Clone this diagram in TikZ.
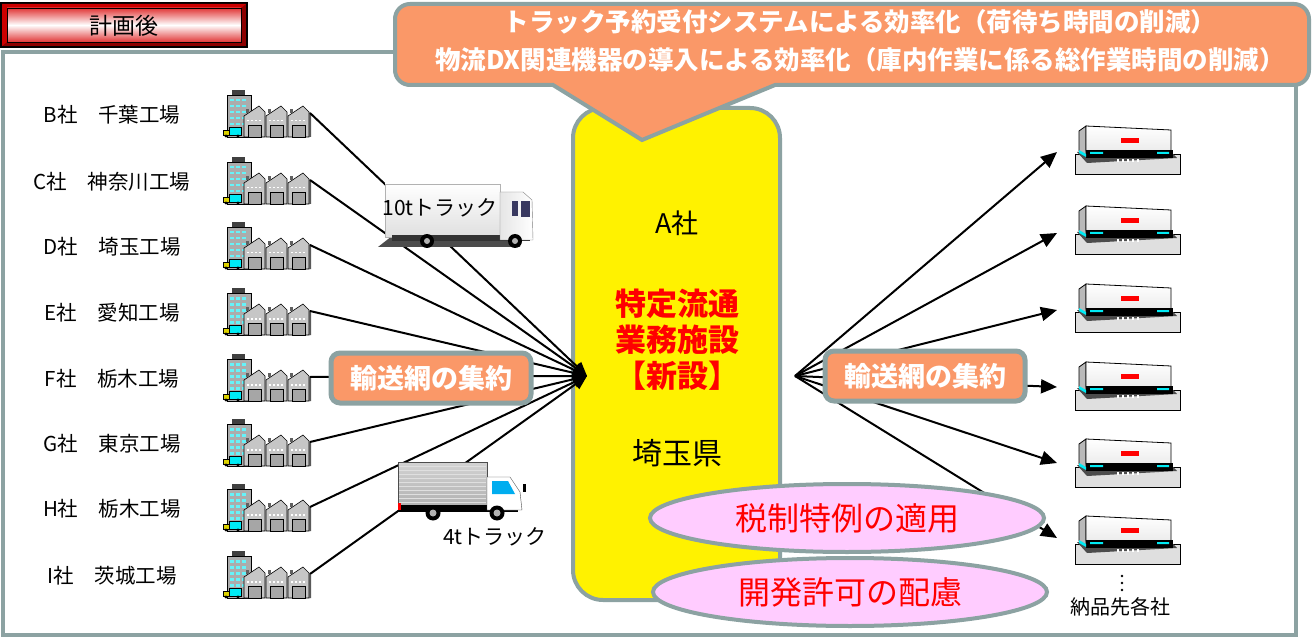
\documentclass[tikz,border=0pt]{standalone}
\usepackage{fontspec}
\setmainfont{Noto Sans CJK JP}
\usetikzlibrary{arrows.meta,shapes.geometric}
\definecolor{frameg}{RGB}{140,162,162}
\definecolor{orng}{RGB}{250,152,104}
\definecolor{pinkf}{RGB}{255,204,255}
\definecolor{cyanw}{RGB}{0,235,245}
\definecolor{hdred}{RGB}{225,55,55}
\newcommand{\fsz}[1]{\fontsize{#1}{#1}\selectfont}
\tikzset{
  lbl/.style={font=\fsz{20.5}, inner sep=0},
  conn/.style={line width=2, -{Triangle[length=14pt,width=12pt]}},
  conn2/.style={line width=2, -{Triangle[length=16pt,width=14pt]}},
  netbox/.style={rounded corners=9, fill=orng, draw=frameg, line width=5,
    minimum width=200, minimum height=50, text=white, inner sep=0,
    font=\bfseries\fsz{27}},
  oval/.style={ellipse, draw=frameg, line width=4, fill=pinkf, inner sep=0,
    minimum width=394, minimum height=68, text=red, font=\fsz{32}},
  factory/.pic={
    \fill[gray!50!black] (-33,-25) rectangle (-20,-19);
    \draw[fill=gray!65, line width=0.6] (-38,-20) rectangle (-14,22);
    \foreach \yy in {-16,-10,-4,2,8}{\foreach \xx in {-35,-29,-23}{\fill[cyanw!60!white] (\xx,\yy) rectangle ++(4,2.5);}}
    \foreach \a in {-21,1,23}{
      \draw[fill=gray!45, line width=0.6] (\a,1) -- (\a+15,-9) -- (\a+21,-3) -- (\a+21,22) -- (\a,22) -- cycle;
      \fill[gray!75!black] (\a+2,-2) rectangle (\a+5,-6);
      \draw[fill=gray!70, line width=0.5] (\a+4,10) rectangle (\a+17,22);
      \foreach \w in {3,7,11,15}{\fill[white] (\a+\w,5) rectangle ++(2,1.5);}
    }
    \fill[gray!70!black] (44,-3) -- (46,-1) -- (46,22) -- (44,22) -- cycle;
    \draw[fill=cyanw, line width=0.5] (-36,12) rectangle (-24,20);
    \draw[fill=yellow!70!olive, line width=0.5] (-42,15) rectangle (-36,20);
    \fill[black] (-39,21) circle (1.6) (-27,21) circle (1.6);
  },
  warehouse/.pic={
    \draw[fill=gray!25, line width=0.8] (-52,4) rectangle (53,24);
    \fill[gray!60!black] (-50,2) -- (44,2) -- (50,8) -- (-40,13) -- cycle;
    \draw[fill=gray!55, line width=0.8] (-48,-19) -- (-41,-24) -- (-41,6) -- (-48,1) -- cycle;
    \shade[top color=white, bottom color=gray!15, draw=black, line width=0.8] (-41,-24) -- (44,-20) -- (44,1) -- (-41,1) -- cycle;
    \fill[black] (-41,0) rectangle (46,8);
    \fill[cyanw] (-48,0) -- (-41,4) -- (-41,7) -- (-48,3) -- cycle;
    \fill[cyanw] (-37,2) rectangle (-24,4) (30,2) rectangle (42,4);
    \foreach \w in {-10,-5,0,5,10}{\fill[white] (\w,9) rectangle ++(2,3);}
    \fill[red] (-6,-12) rectangle (12,-7);
  }
}
\begin{document}
\begin{tikzpicture}[x=1pt,y=-1pt]
\useasboundingbox (0,0) rectangle (1312,639);
\fill[white] (0,0) rectangle (1312,639);
% main frame
\draw[frameg, line width=4] (3,52) rectangle (1296,635);
% header
\fill[black] (0,2) rectangle (248,48);
\fill[red!55!black] (2,4) rectangle (246,46);
\fill[red!80!black] (2,4) -- (246,4) -- (241,8) -- (7,8) -- cycle;
\fill[red!80!black] (2,4) -- (7,8) -- (7,42) -- (2,46) -- cycle;
\shade[top color=hdred, bottom color=hdred, middle color=white, draw=black, line width=0.8] (7,8) rectangle (241,42);
\node[font=\fsz{23}, inner sep=0] (hdr) at (124,26) {計画後};
% hub box
\node[draw=frameg, fill=yellow, line width=4, rounded corners=30, minimum width=207, minimum height=492, inner sep=0] (hub) at (676.5,354) {};
% factories
\foreach \r/\t [count=\i] in {115/B社　千葉工場,182/C社　神奈川工場,247/D社　埼玉工場,313/E社　愛知工場,379/F社　栃木工場,444/G社　東京工場,509/H社　栃木工場,576/I社　茨城工場}{
  \node[lbl] (lb\i) at (112,\r) {\t};
  \pic at (265,\r) {factory};
  \coordinate (f\i) at (310,\r-2);
}
\coordinate (hubin) at (587,376);
\foreach \i in {1,...,8}{\draw[conn] (f\i) -- (hubin);}
% right fan
\coordinate (hubout) at (795,376);
\foreach \r/\e [count=\i] in {150/152,230/233,308/310,386/387,463/463,540/538}{
  \pic at (1127,\r) {warehouse};
  \coordinate (w\i) at (1057,\e);
  \draw[conn2] (hubout) -- (w\i);
}
\fill[black] (1122,576) circle (1.3) (1122,583) circle (1.3) (1122,590) circle (1.3);
\node[font=\fsz{20}, inner sep=0] (nohin) at (1120,607) {納品先各社};
% 10t truck
\fill[black!70] (378,247) -- (392,236) -- (520,236) -- (520,247) -- cycle;
\shade[top color=white, bottom color=gray!25, draw=gray!60] (385,184) rectangle (500,237);
\fill[black!80] (392,235) rectangle (530,241);
\shade[left color=gray!20, right color=white, draw=gray] (500,192) -- (523,192) -- (532,200) -- (533,240) -- (500,240) -- cycle;
\fill[blue!25!gray!60!black] (512,201) rectangle (518,216);
\fill[blue!25!gray!60!black] (521,201) -- (530,201) -- (530,217) -- (521,217) -- cycle;
\fill[black] (427,241) circle (7) (515,241) circle (7);
\fill[gray!60] (427,241) circle (3) (515,241) circle (3);
\node[font=\fsz{21}, inner sep=0] (t10) at (440,208) {10tトラック};
% 4t truck
\shade[top color=gray!35, bottom color=gray!60, draw=gray!60!black] (398,462) rectangle (487,505);
\foreach \yy in {466,470,...,502}{\draw[gray!25, line width=0.8] (399,\yy) -- (486,\yy);}
\fill[black] (398,505) rectangle (518,512);
\fill[red] (398,503) rectangle (401,510);
\draw[fill=white, draw=gray!60!black] (487,477) -- (510,477) -- (520,492) -- (522,510) -- (487,510) -- cycle;
\fill[cyan] (492,481) -- (508,481) -- (515,494) -- (492,494) -- cycle;
\fill[black] (523,484) rectangle (526,492);
\fill[black] (433,513) circle (7.5) (497,513) circle (7.5);
\fill[gray!60] (433,513) circle (3.5) (497,513) circle (3.5);
\node[font=\fsz{21}, inner sep=0] (t4) at (495,537) {4tトラック};
% hub texts
\node[font=\fsz{27}, inner sep=0] (aco) at (677,223) {A社};
\node[font=\bfseries\fontsize{31}{36}\selectfont, text=red, align=center, inner sep=0] (toku) at (677,340) {特定流通\\業務施設\\【新設】};
\node[font=\fsz{30}, inner sep=0] (sai) at (677,453) {埼玉県};
% boxes
\node[netbox] (net1) at (431,378) {輸送網の集約};
\node[netbox] (net2) at (925,376) {輸送網の集約};
\node[oval] (tax) at (847,518) {税制特例の適用};
\node[oval] (dev) at (850,592) {開発許可の配慮};
% callout
\draw[fill=orng, draw=frameg, line width=4] (642,140) -- (553,85) [rounded corners=15] -- (395,85) -- (395,4) -- (1309,4) -- (1309,85) [sharp corners] -- (775,85) -- cycle;
\node[font=\bfseries\fontsize{25.5}{38}\selectfont, text=white, align=center, inner sep=0] (callt) at (860,41) {トラック予約受付システムによる効率化（荷待ち時間の削減）\\物流DX関連機器の導入による効率化（庫内作業に係る総作業時間の削減）};
\end{tikzpicture}
\end{document}
